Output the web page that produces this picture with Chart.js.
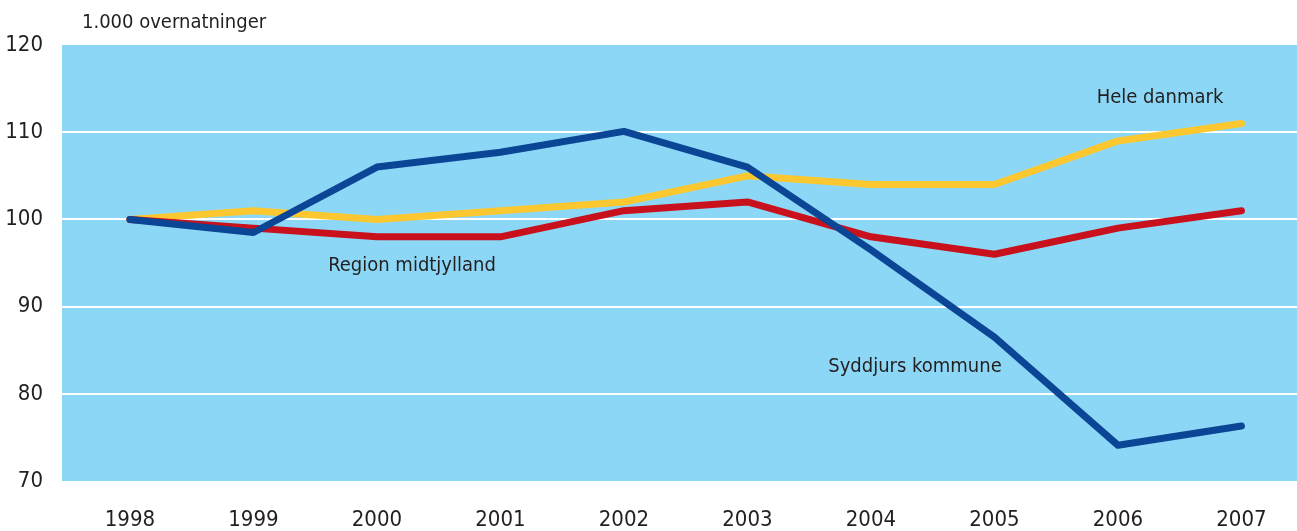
<!DOCTYPE html>
<html>
<head>
<meta charset="utf-8">
<title>Overnatninger 1998-2007</title>
<script src="https://cdn.jsdelivr.net/npm/chart.js@4/dist/chart.umd.min.js"></script>
<style>
  html, body { margin: 0; padding: 0; background: #ffffff; }
  #wrap { width: 1297px; height: 531px; position: relative; }
</style>
</head>
<body>
<div id="wrap"><canvas id="chart" width="1297" height="531"></canvas></div>
<script>
// Index values (1998 = 100), overnatninger
const years = [1998, 1999, 2000, 2001, 2002, 2003, 2004, 2005, 2006, 2007];
const syddjurs = [100, 98.5, 106, 107.7, 110.1, 106, 96.5, 86.5, 74.1, 76.3];
const midtjylland = [100, 99, 98, 98, 101, 102, 98, 96, 99, 101];
const heleDanmark = [100, 101, 100, 101, 102, 105, 104, 104, 109, 111];
const yTicks = [70, 80, 90, 100, 110, 120];
const unitLabel = '1.000 overnatninger';
const seriesNames = ['Syddjurs kommune', 'Region midtjylland', 'Hele danmark'];

const FONT = '"Liberation Sans Narrow", "DejaVu Sans Condensed", "Liberation Sans", sans-serif';
const TEXT = '#231f20';

const toPoints = vals => vals.map((v, i) => ({ x: years[i], y: v }));

// Light blue plot background
const plotBackground = {
  id: 'plotBackground',
  beforeDraw(chart) {
    const { ctx, chartArea: a } = chart;
    ctx.save();
    ctx.fillStyle = '#8dd7f6';
    ctx.fillRect(a.left, a.top, a.right - a.left, a.bottom - a.top);
    ctx.restore();
  }
};

// Unit caption and series names
const captions = {
  id: 'captions',
  afterDraw(chart) {
    const { ctx } = chart;
    ctx.save();
    ctx.fillStyle = TEXT;
    ctx.font = '20px ' + FONT;
    ctx.textBaseline = 'middle';
    ctx.textAlign = 'left';
    ctx.fillText(unitLabel, 82, 23);
    ctx.textAlign = 'center';
    ctx.fillText(seriesNames[2], 1160, 98);
    ctx.fillText(seriesNames[1], 412, 266);
    ctx.fillText(seriesNames[0], 915, 367);
    ctx.restore();
  }
};

const lineStyle = {
  borderWidth: 7,
  pointRadius: 0,
  pointHoverRadius: 0,
  tension: 0,
  borderCapStyle: 'round',
  borderJoinStyle: 'round',
  fill: false
};

new Chart(document.getElementById('chart'), {
  type: 'line',
  data: {
    datasets: [
      Object.assign({ label: seriesNames[0], data: toPoints(syddjurs), borderColor: '#0b4595' }, lineStyle),
      Object.assign({ label: seriesNames[1], data: toPoints(midtjylland), borderColor: '#c8111c' }, lineStyle),
      Object.assign({ label: seriesNames[2], data: toPoints(heleDanmark), borderColor: '#fdc82f' }, lineStyle)
    ]
  },
  options: {
    responsive: false,
    animation: false,
    events: [],
    layout: { padding: { top: 45, right: 0, left: 0, bottom: 0 } },
    plugins: { legend: { display: false }, tooltip: { enabled: false } },
    scales: {
      x: {
        type: 'linear',
        min: 1997.45,
        max: 2007.45,
        afterBuildTicks(scale) { scale.ticks = years.map(v => ({ value: v })); },
        afterFit(scale) { scale.height = 50; },
        border: { display: false },
        grid: { display: false, drawTicks: false },
        ticks: {
          autoSkip: false,
          maxRotation: 0,
          padding: 26,
          color: TEXT,
          font: { family: FONT, size: 22 },
          callback: v => String(v)
        }
      },
      y: {
        min: 70,
        max: 120,
        afterBuildTicks(scale) { scale.ticks = yTicks.map(v => ({ value: v })); },
        afterFit(scale) { scale.width = 62; },
        border: { display: false },
        grid: {
          drawTicks: false,
          lineWidth: 2,
          color: c => (c.tick && (c.tick.value === 70 || c.tick.value === 120)) ? 'rgba(0,0,0,0)' : '#ffffff'
        },
        ticks: {
          padding: 19,
          color: TEXT,
          font: { family: FONT, size: 22 },
          callback: v => String(v)
        }
      }
    }
  },
  plugins: [plotBackground, captions]
});
</script>
</body>
</html>
